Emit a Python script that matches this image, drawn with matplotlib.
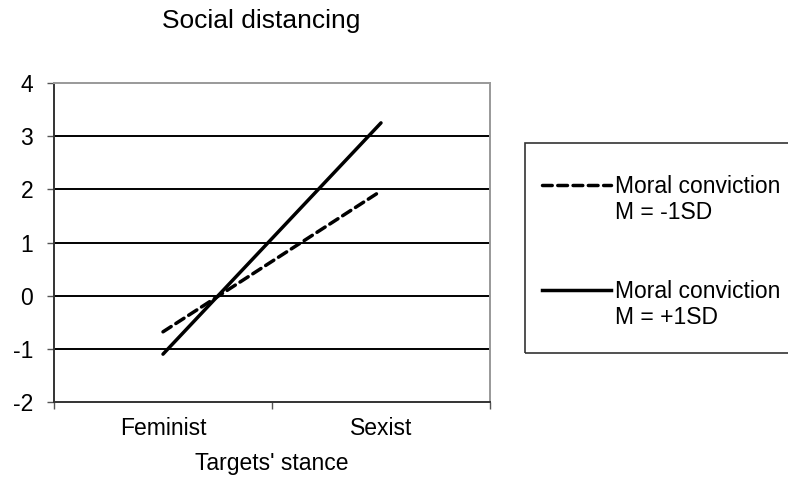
import matplotlib
matplotlib.use("Agg")
import matplotlib.pyplot as plt
from matplotlib.lines import Line2D
from matplotlib.patches import Rectangle

plt.rcParams['font.family'] = ['Liberation Sans', 'DejaVu Sans']

# data
stances = ["Feminist", "Sexist"]
low_mc = [-0.68, 1.97]    # M = -1SD
high_mc = [-1.10, 3.25]   # M = +1SD
y_ticks = [-2, -1, 0, 1, 2, 3, 4]
label_low = "Moral conviction\nM = -1SD"
label_high = "Moral conviction\nM = +1SD"

FS = 16.5

fig = plt.figure(figsize=(7.88, 4.8), dpi=100)
ax = fig.add_axes([54 / 788, 1 - 402 / 480, (490 - 54) / 788, (402 - 83) / 480])

xpos = [0.5, 1.5]
ax.plot(xpos, low_mc, color='black', lw=2.5, linestyle=(0, (2.8, 1.6)),
        dash_capstyle='round', solid_capstyle='round', zorder=3)
ax.plot(xpos, high_mc, color='black', lw=2.5, solid_capstyle='round', zorder=3)

ax.set_xlim(0, 2)
ax.set_ylim(-2, 4)
ax.set_yticks(y_ticks)
ax.set_yticklabels([str(v) for v in y_ticks], fontsize=FS)
for v in y_ticks[1:-1]:
    ax.axhline(v, color='black', lw=1.4, zorder=1)

ax.set_xticks([0, 1, 2])
ax.set_xticklabels([])
ax.set_xticks(xpos, minor=True)
ax.set_xticklabels(stances, minor=True, fontsize=FS)
ax.tick_params(axis='x', which='minor', length=0, pad=11)
ax.tick_params(axis='x', which='major', length=5, width=1, color='#555555')
ax.tick_params(axis='y', length=5, width=1, color='#555555', pad=10)
ax.set_xlabel("Targets' stance", fontsize=FS, labelpad=8.5)

for s in ['left', 'bottom']:
    ax.spines[s].set_color('#333333')
    ax.spines[s].set_linewidth(1.4)
for s in ['top', 'right']:
    ax.spines[s].set_color('#999999')
    ax.spines[s].set_linewidth(1.4)

fig.text(162 / 788, 1 - 21 / 480, "Social distancing", fontsize=19, va='center', ha='left')

# legend box
fig.patches.append(Rectangle((525 / 788, 1 - 353 / 480), (800 - 525) / 788, 210 / 480,
                             transform=fig.transFigure, fill=False, edgecolor='#333333', lw=1.2))

blank = Line2D([], [], color='none')
handles = [Line2D([], [], color='black', lw=2.5, linestyle=(0, (2.8, 1.6)), dash_capstyle='round'),
           blank, blank, blank,
           Line2D([], [], color='black', lw=2.5), blank]
labels = [label_low.split('\n')[0], label_low.split('\n')[1], ' ', ' ',
          label_high.split('\n')[0], label_high.split('\n')[1]]
fig.legend(handles, labels, loc='upper left', bbox_to_anchor=(542 / 788, 1 - 175 / 480),
           frameon=False, fontsize=FS, handlelength=3.0, handletextpad=0.2,
           labelspacing=0.14, borderpad=0, borderaxespad=0)

fig.savefig("out.png", dpi=100)
